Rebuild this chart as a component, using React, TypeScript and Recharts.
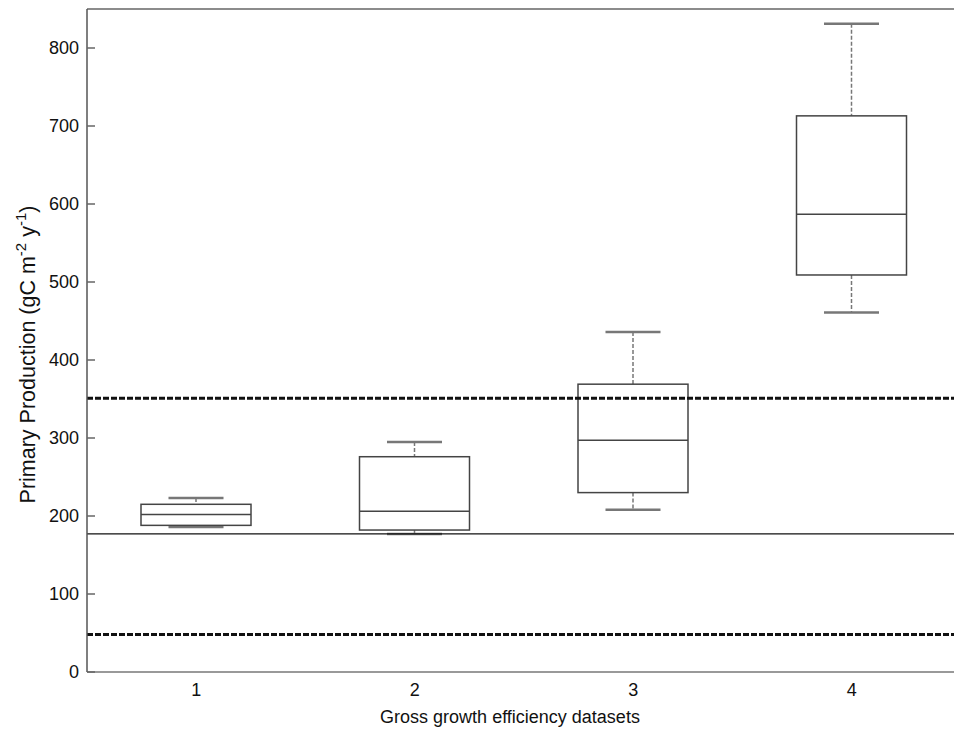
import React from 'react';
import { ComposedChart, Bar, XAxis, YAxis, ReferenceLine } from 'recharts';

const categories = ['1', '2', '3', '4'];
const mins = [186, 177, 208, 461];
const q1s = [188, 182, 230, 509];
const medians = [202, 206, 297, 587];
const q3s = [215, 276, 369, 713];
const maxs = [223, 295, 436, 831];
const dottedLevels = [351, 48];
const solidLevels = [177];
const yTicks = [0, 100, 200, 300, 400, 500, 600, 700, 800];
const yMax = 850;

const data = categories.map((name, i) => ({
  name,
  min: mins[i],
  q1: q1s[i],
  median: medians[i],
  q3: q3s[i],
  max: maxs[i],
}));

const FONT = '"Liberation Sans", Arial, Helvetica, sans-serif';

const BoxShape = (props: any) => {
  const { x, y, width, height, payload } = props;
  if (!payload || height == null) return null;
  const { min, q1, median, q3, max } = payload;
  const yBottom = y + height;
  const k = height / (max - min);
  const yOf = (v: number) => yBottom - (v - min) * k;
  const cx = x + width / 2;
  const capHalf = width / 4;
  const whiskerStyle = { stroke: '#777', strokeWidth: 1.5, strokeDasharray: '4 2' };
  const capStyle = { stroke: '#777', strokeWidth: 2.5 };
  return (
    <g>
      <line x1={cx} x2={cx} y1={yOf(max)} y2={yOf(q3)} {...whiskerStyle} />
      <line x1={cx} x2={cx} y1={yOf(q1)} y2={yOf(min)} {...whiskerStyle} />
      <line x1={cx - capHalf} x2={cx + capHalf} y1={yOf(max)} y2={yOf(max)} {...capStyle} />
      <line x1={cx - capHalf} x2={cx + capHalf} y1={yOf(min)} y2={yOf(min)} {...capStyle} />
      <rect x={x} y={yOf(q3)} width={width} height={yOf(q1) - yOf(q3)} fill="#fff" stroke="#444" strokeWidth={1.5} />
      <line x1={x} x2={x + width} y1={yOf(median)} y2={yOf(median)} stroke="#444" strokeWidth={1.5} />
    </g>
  );
};

const YTick = (props: any) => {
  const { x, y, payload } = props;
  return (
    <g>
      <line x1={x + 8} x2={x + 16} y1={y} y2={y} stroke="#666" strokeWidth={1.5} />
      <text x={x} y={y} dy="0.36em" textAnchor="end" fontFamily={FONT} fontSize={18} fill="#111">
        {payload.value}
      </text>
    </g>
  );
};

const XTick = (props: any) => {
  const { x, y, payload } = props;
  return (
    <text x={x} y={y} dy="0.71em" textAnchor="middle" fontFamily={FONT} fontSize={18} fill="#111">
      {payload.value}
    </text>
  );
};

const YLabel = (props: any) => {
  const vb = props.viewBox || {};
  const cx = 28;
  const cy = (vb.y ?? 9) + (vb.height ?? 663) / 2 + 14;
  return (
    <text
      x={cx}
      y={cy}
      transform={`rotate(-90, ${cx}, ${cy})`}
      textAnchor="middle"
      dominantBaseline="central"
      fontFamily={FONT}
      fontSize={21.5}
      fill="#111"
    >
      Primary Production (gC m
      <tspan fontSize={15} dy={-8}>-2</tspan>
      <tspan dy={8}> y</tspan>
      <tspan fontSize={15} dy={-8}>-1</tspan>
      <tspan dy={8}>)</tspan>
    </text>
  );
};

const XLabel = (props: any) => {
  const vb = props.viewBox || {};
  const cx = (vb.x ?? 87) + (vb.width ?? 874) / 2 - 14;
  return (
    <text x={cx} y={723} textAnchor="middle" fontFamily={FONT} fontSize={18} fill="#111">
      Gross growth efficiency datasets
    </text>
  );
};

export default function App() {
  return (
    <div style={{ position: 'absolute', left: 0, top: 0, width: 954, height: 732, overflow: 'hidden', background: '#fff' }}>
      <ComposedChart
        width={971}
        height={732}
        data={data}
        margin={{ top: 9, right: 10, bottom: 0, left: 27 }}
      >
        <XAxis
          dataKey="name"
          type="category"
          axisLine={{ stroke: '#777', strokeWidth: 1.5 }}
          tickLine={false}
          tickSize={0}
          tickMargin={11}
          tick={<XTick />}
          height={60}
          label={{ content: <XLabel /> }}
        />
        <YAxis
          type="number"
          domain={[0, yMax]}
          ticks={yTicks}
          width={60}
          axisLine={{ stroke: '#555', strokeWidth: 1.5 }}
          tickLine={false}
          tickSize={0}
          tickMargin={8}
          tick={<YTick />}
          allowDataOverflow
          label={{ content: <YLabel /> }}
        />
        <ReferenceLine y={yMax} stroke="#666" strokeWidth={1.5} />
        {solidLevels.map((v) => (
          <ReferenceLine key={'s' + v} y={v} stroke="#111" strokeWidth={1.2} />
        ))}
        {dottedLevels.map((v) => (
          <ReferenceLine key={'d' + v} y={v} stroke="#111" strokeWidth={3} strokeDasharray="6 2" />
        ))}
        <Bar
          dataKey={(d: any) => [d.min, d.max]}
          barSize={110}
          shape={<BoxShape />}
          isAnimationActive={false}
        />
      </ComposedChart>
    </div>
  );
}
